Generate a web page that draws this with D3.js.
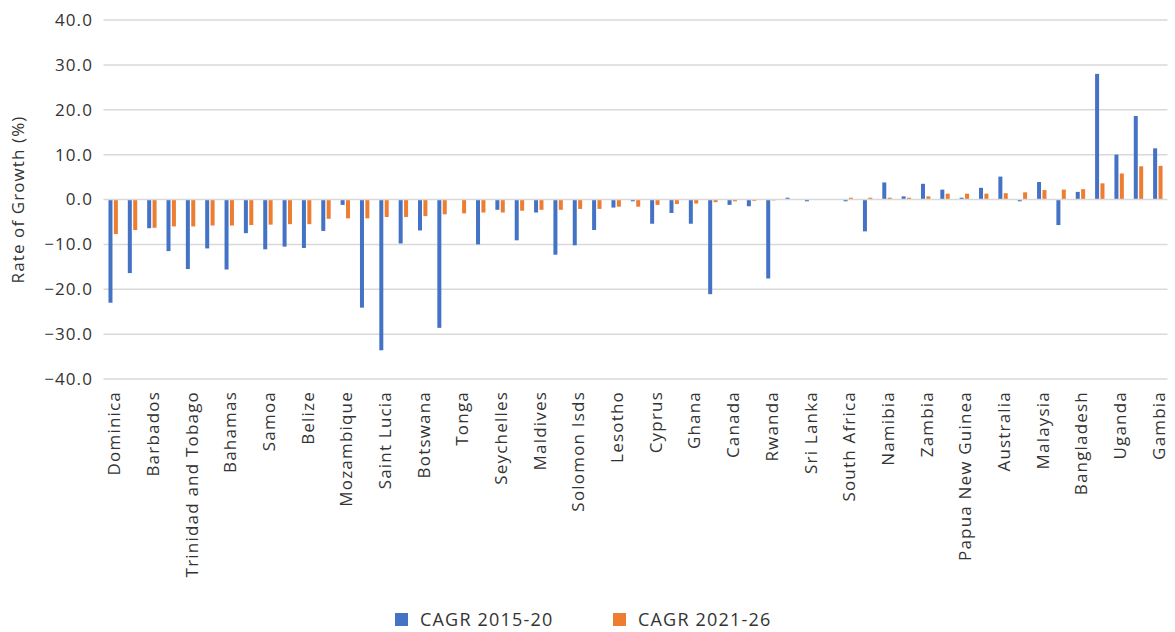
<!DOCTYPE html>
<html>
<head>
<meta charset="utf-8">
<script src="https://cdn.jsdelivr.net/npm/d3@7"></script>
<style>
  html, body { margin: 0; padding: 0; background: #fff; }
  svg { display: block; }
  text { font-family: "Open Sans", "Noto Sans", sans-serif; fill: #333; }
</style>
</head>
<body>
<svg id="chart" width="1175" height="632"></svg>
<script>
// Category labels (every second category is unlabelled on the source axis)
const categories = [
  "Dominica", "", "Barbados", "", "Trinidad and Tobago", "", "Bahamas", "", "Samoa", "",
  "Belize", "", "Mozambique", "", "Saint Lucia", "", "Botswana", "", "Tonga", "",
  "Seychelles", "", "Maldives", "", "Solomon Isds", "", "Lesotho", "", "Cyprus", "",
  "Ghana", "", "Canada", "", "Rwanda", "", "Sri Lanka", "", "South Africa", "",
  "Namibia", "", "Zambia", "", "Papua New Guinea", "", "Australia", "", "Malaysia", "",
  "Bangladesh", "", "Uganda", "", "Gambia"
];

const seriesNames = ["CAGR 2015-20", "CAGR 2021-26"];

const cagr2015_20 = [
  -23.0, -16.4, -6.4, -11.5, -15.5, -10.9, -15.6, -7.5, -11.1, -10.5,
  -10.8, -7.0, -1.2, -24.1, -33.6, -9.8, -6.9, -28.6, -0.1, -10.0,
  -2.3, -9.1, -2.9, -12.3, -10.2, -6.8, -1.8, -0.4, -5.4, -3.0,
  -5.4, -21.1, -1.2, -1.5, -17.6, 0.4, -0.4, 0.1, -0.4, -7.1,
  3.8, 0.7, 3.5, 2.2, 0.4, 2.6, 5.1, -0.4, 3.9, -5.7,
  1.7, 28.0, 10.0, 18.6, 11.4
];

const cagr2021_26 = [
  -7.7, -6.8, -6.3, -6.0, -6.0, -5.8, -5.8, -5.7, -5.6, -5.5,
  -5.5, -4.3, -4.2, -4.2, -3.9, -3.9, -3.7, -3.3, -3.1, -2.9,
  -2.9, -2.5, -2.3, -2.3, -2.1, -2.1, -1.6, -1.6, -1.2, -1.0,
  -0.9, -0.6, -0.4, -0.3, -0.2, -0.1, -0.1, 0.0, 0.4, 0.4,
  0.4, 0.4, 0.7, 1.3, 1.3, 1.3, 1.4, 1.6, 2.1, 2.2,
  2.3, 3.6, 5.8, 7.4, 7.5
];

const yTicks = [-40, -30, -20, -10, 0, 10, 20, 30, 40];
const colors = ["#4472C4", "#ED7D31"];

const svg = d3.select("#chart");
const plotLeft = 103.5, plotRight = 1167.5, plotTop = 20, plotBottom = 379;
const FONT = '"Open Sans", sans-serif';

const idx = categories.map((d, i) => i);
const x0 = d3.scaleBand().domain(idx).range([plotLeft, plotRight]).paddingInner(0).paddingOuter(0);
const step = x0.step();
const groupW = 9.4;
const x1 = d3.scaleBand().domain(seriesNames)
  .range([(step - groupW) / 2, (step + groupW) / 2]).paddingInner(0.26);
const y = d3.scaleLinear().domain([-40, 40]).range([plotBottom, plotTop]);

// gridlines
svg.append("g").selectAll("line").data(yTicks.filter(t => t !== 0)).join("line")
  .attr("x1", plotLeft).attr("x2", plotRight)
  .attr("y1", d => y(d)).attr("y2", d => y(d))
  .attr("stroke", "#d9d9d9").attr("stroke-width", 1.5);

// y axis labels
const yAxis = d3.axisLeft(y).tickValues(yTicks).tickFormat(d3.format(".1f")).tickSize(0).tickPadding(0);
const gy = svg.append("g").attr("transform", `translate(93,0)`).call(yAxis);
gy.select(".domain").remove();
gy.selectAll("text").attr("font-size", 17).attr("fill", "#333")
  .attr("letter-spacing", 1.1)
  .style("font-family", FONT);

// bars
const series = [cagr2015_20, cagr2021_26];
const g = svg.append("g");
idx.forEach(i => {
  series.forEach((vals, s) => {
    const v = vals[i];
    g.append("rect")
      .attr("x", x0(i) + x1(seriesNames[s]))
      .attr("width", x1.bandwidth())
      .attr("y", y(Math.max(0, v)))
      .attr("height", Math.abs(y(v) - y(0)))
      .attr("fill", colors[s]);
  });
});

// zero line
svg.append("line").attr("x1", plotLeft).attr("x2", plotRight)
  .attr("y1", y(0)).attr("y2", y(0))
  .attr("stroke", "#d9d9d9").attr("stroke-width", 1.5);

// x axis labels
const xAxis = d3.axisBottom(x0).tickSize(0).tickPadding(0)
  .tickFormat(i => categories[i]);
const gx = svg.append("g").attr("transform", `translate(0,${plotBottom})`).call(xAxis);
gx.select(".domain").remove();
gx.selectAll("text")
  .attr("font-size", 17).attr("fill", "#333")
  .attr("letter-spacing", 1.2)
  .style("font-family", FONT)
  .attr("text-anchor", "end")
  .attr("transform", "translate(1,12) rotate(-90)")
  .attr("x", 0).attr("y", 0).attr("dy", "0.35em");

// y axis title
svg.append("text")
  .attr("transform", `translate(18,${(plotTop + plotBottom) / 2}) rotate(-90)`)
  .attr("text-anchor", "middle").attr("dy", "0.35em")
  .attr("font-size", 17).attr("letter-spacing", 1.1)
  .text("Rate of Growth (%)");

// legend
const legendItems = [{x: 395, name: seriesNames[0], c: colors[0]}, {x: 613, name: seriesNames[1], c: colors[1]}];
const lg = svg.append("g");
legendItems.forEach(d => {
  lg.append("rect").attr("x", d.x).attr("y", 613).attr("width", 13).attr("height", 13).attr("fill", d.c);
  lg.append("text").attr("x", d.x + 25).attr("y", 620).attr("dy", "0.35em")
    .attr("font-size", 18).attr("letter-spacing", 1.2).text(d.name);
});
</script>
</body>
</html>
